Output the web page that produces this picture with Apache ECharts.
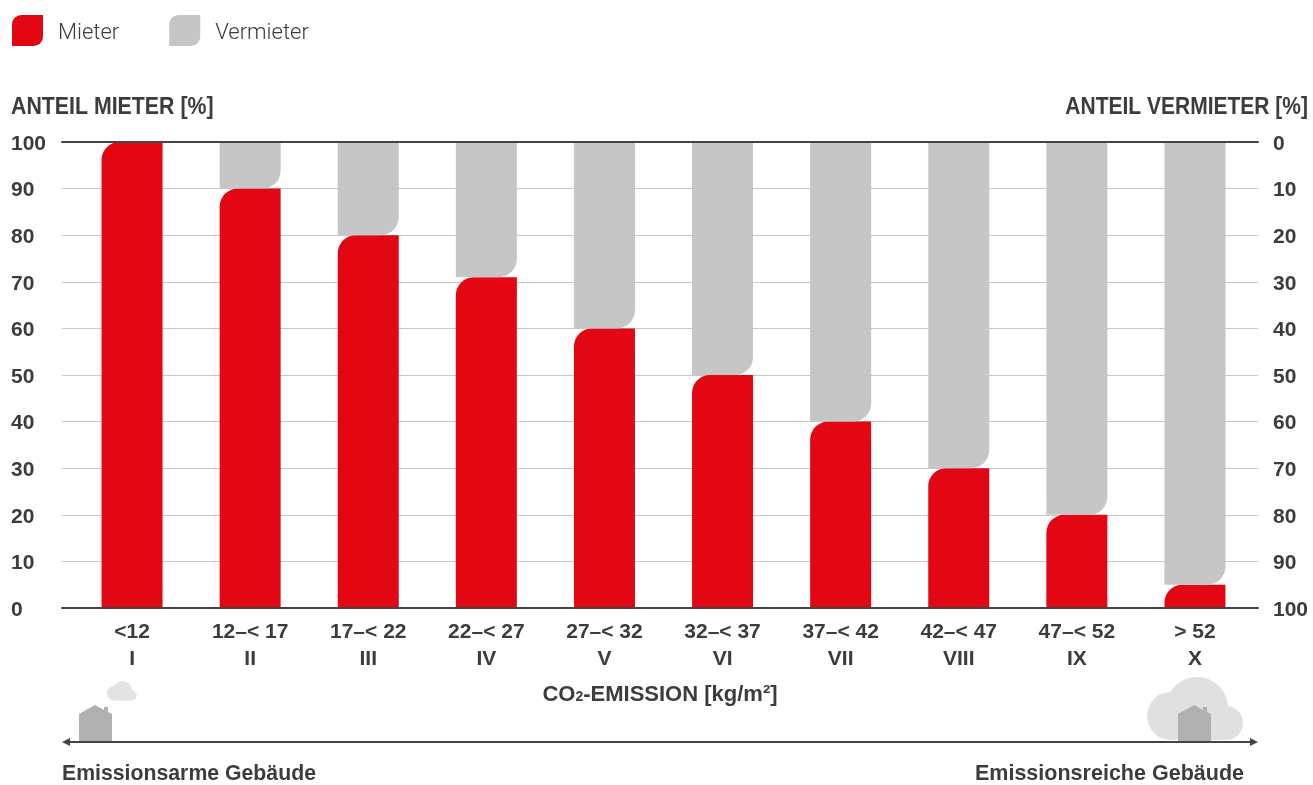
<!DOCTYPE html>
<html lang="de">
<head>
<meta charset="utf-8">
<title>CO2-Kosten: Anteil Mieter und Vermieter</title>
<style>
  html, body { margin: 0; padding: 0; background: #fff; }
  #chart { width: 1313px; height: 785px; }
</style>
<script src="https://cdn.jsdelivr.net/npm/echarts@6/dist/echarts.min.js"></script>
</head>
<body>
<div id="chart"></div>
<script>
// Stufenmodell: Kostenanteile je Emissionsklasse
const emissionRanges = ['<12', '12–< 17', '17–< 22', '22–< 27', '27–< 32', '32–< 37', '37–< 42', '42–< 47', '47–< 52', '> 52'];
const classNames = ['I', 'II', 'III', 'IV', 'V', 'VI', 'VII', 'VIII', 'IX', 'X'];
const tenantShare = [100, 90, 80, 71, 60, 50, 40, 30, 20, 5];
const landlordShare = [0, 10, 20, 29, 40, 50, 60, 70, 80, 95];

const RED = '#e30613';
const GREY = '#c6c6c6';
const INK = '#3c3c3c';
const FACE = '"Liberation Sans", sans-serif';

const categories = emissionRanges.map((r, i) => r + '\n' + classNames[i]);

const leafIcon = 'path://M6,0 H20 V14 A6,6 0 0 1 14,20 H0 V6 A6,6 0 0 1 6,0 Z';

const boldText = { fontFamily: FACE, fontWeight: 'bold', fontSize: 21, color: INK };

// Skalenbeschriftung, leicht unter die Gitterlinie gesetzt
const tickLabel = {
  formatter: '{v|{value}}',
  rich: { v: { ...boldText, padding: [4, 0, 0, 0] } }
};

// Horizontal gestauchte Überschrift in kräftigem Schnitt
function heading(text, x, y, size, squeeze, align) {
  return {
    type: 'text', silent: true, x, y, scaleX: squeeze,
    style: { text, fill: INK, font: 'bold ' + size + 'px ' + FACE, align, verticalAlign: 'middle' }
  };
}

// Haus-Piktogramm, Ursprung links unten
function house(x, y) {
  return {
    type: 'polygon',
    silent: true,
    shape: { points: [
      [x, y], [x, y - 28], [x + 16, y - 37], [x + 25, y - 32], [x + 25, y - 35],
      [x + 29, y - 35], [x + 29, y - 30], [x + 33, y - 28], [x + 33, y]
    ] },
    style: { fill: '#b0b0b0' }
  };
}

// Wolke aus drei Kreisen und einer flachen Basis
function cloud(x, y, scale, fill) {
  const style = { fill };
  return {
    type: 'group',
    silent: true,
    x, y, scaleX: scale, scaleY: scale,
    children: [
      { type: 'circle', shape: { cx: 24, cy: 39, r: 24 }, style },
      { type: 'circle', shape: { cx: 50, cy: 31, r: 31 }, style },
      { type: 'circle', shape: { cx: 79, cy: 46, r: 17 }, style },
      { type: 'rect', shape: { x: 24, y: 39, width: 55, height: 24 }, style }
    ]
  };
}

const chart = echarts.init(document.getElementById('chart'), null, { renderer: 'canvas' });

chart.setOption({
  animation: false,
  backgroundColor: '#fff',
  legend: {
    left: 12,
    top: 15,
    padding: 0,
    itemWidth: 31,
    itemHeight: 31,
    itemGap: 50,
    selectedMode: false,
    formatter: '{n|{name}}',
    textStyle: {
      rich: {
        n: {
          fontFamily: 'Roboto, sans-serif',
          fontWeight: 300,
          fontSize: 22,
          color: INK,
          padding: [6, 0, 0, 10]
        }
      }
    },
    data: [
      { name: 'Mieter', icon: leafIcon },
      { name: 'Vermieter', icon: leafIcon }
    ]
  },
  grid: [
    { left: 62, width: 1196, top: 142, height: 466 },
    { left: 73, width: 1181, top: 142, height: 466 }
  ],
  xAxis: [
    {
      gridIndex: 0, type: 'value', min: 0, max: 1, position: 'bottom', z: 6,
      axisLine: { show: true, onZero: false, lineStyle: { color: '#444', width: 2 } },
      axisTick: { show: false }, axisLabel: { show: false }, splitLine: { show: false },
      name: '{t|CO}{s|2}{t|-EMISSION [kg/m²]}',
      nameLocation: 'middle',
      nameGap: 76,
      nameTextStyle: {
        rich: {
          t: { fontFamily: FACE, fontWeight: 'bold', fontSize: 22, color: INK },
          s: { fontFamily: FACE, fontWeight: 'bold', fontSize: 14, color: INK, padding: [4, 0, 0, 0] }
        }
      }
    },
    {
      gridIndex: 0, type: 'value', min: 0, max: 1, position: 'top', z: 6,
      axisLine: { show: true, onZero: false, lineStyle: { color: '#444', width: 2 } },
      axisTick: { show: false }, axisLabel: { show: false }, splitLine: { show: false }
    },
    {
      gridIndex: 1, type: 'category', data: categories,
      axisLine: { show: false }, axisTick: { show: false },
      axisLabel: { ...boldText, margin: 11, lineHeight: 27, interval: 0 }
    }
  ],
  yAxis: [
    {
      gridIndex: 0, type: 'value', min: 0, max: 100, interval: 10, position: 'left',
      axisLine: { show: false }, axisTick: { show: false },
      axisLabel: { ...tickLabel, align: 'left', margin: 51 },
      splitLine: { show: true, lineStyle: { color: '#c8c8c8', width: 1 } }
    },
    {
      gridIndex: 0, type: 'value', min: 0, max: 100, interval: 10, position: 'right', inverse: true,
      axisLine: { show: false }, axisTick: { show: false },
      axisLabel: { ...tickLabel, align: 'left', margin: 15 },
      splitLine: { show: false }
    },
    {
      gridIndex: 1, type: 'value', min: 0, max: 100, position: 'left', show: false, splitLine: { show: false }
    },
    {
      gridIndex: 1, type: 'value', min: 0, max: 100, position: 'right', inverse: true, show: false, splitLine: { show: false }
    }
  ],
  series: [
    {
      name: 'Mieter', type: 'bar', xAxisIndex: 2, yAxisIndex: 2,
      barWidth: 61, barGap: '-100%', data: tenantShare,
      itemStyle: { color: RED, borderRadius: [18, 0, 0, 0] }
    },
    {
      name: 'Vermieter', type: 'bar', xAxisIndex: 2, yAxisIndex: 3,
      barWidth: 61, barGap: '-100%', data: landlordShare,
      itemStyle: { color: GREY, borderRadius: [0, 0, 18, 0] }
    }
  ],
  graphic: [
    heading('ANTEIL MIETER [%]', 11, 108, 23, 0.927, 'left'),
    heading('ANTEIL VERMIETER [%]', 1308, 108, 23, 0.913, 'right'),
    cloud(1147, 677, 1, '#e0e0e0'),
    cloud(107, 681, 0.31, '#e3e3e3'),
    house(79, 742),
    house(1178, 742),
    { type: 'line', silent: true, shape: { x1: 66, y1: 742, x2: 1254, y2: 742 }, style: { stroke: '#444', lineWidth: 2 } },
    { type: 'polygon', silent: true, shape: { points: [[62, 742], [70, 738], [70, 746]] }, style: { fill: '#444' } },
    { type: 'polygon', silent: true, shape: { points: [[1258, 742], [1250, 738], [1250, 746]] }, style: { fill: '#444' } },
    heading('Emissionsarme Gebäude', 62, 774, 22, 0.966, 'left'),
    heading('Emissionsreiche Gebäude', 1244, 774, 22, 0.978, 'right')
  ]
});
</script>
</body>
</html>
